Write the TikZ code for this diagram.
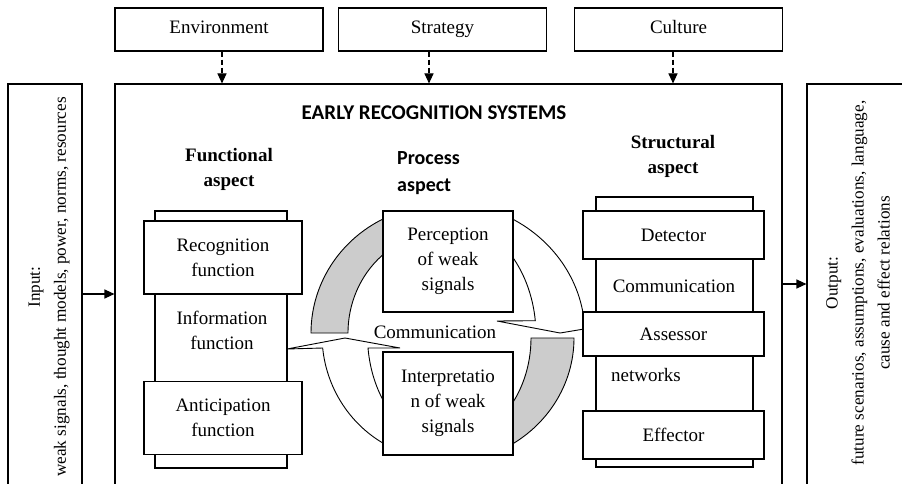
\documentclass[tikz,border=0pt]{standalone}
\usepackage{fontspec}
\setmainfont{Liberation Serif}
\newfontfamily\calibri{Carlito}
\usetikzlibrary{arrows.meta}

\newcommand{\CX}{443}
\newcommand{\CY}{335}
\definecolor{ringgray}{RGB}{204,204,204}

\tikzset{
    box/.style={draw, fill=white, line width=1.1pt, inner sep=0pt, align=center,
        font=\fontsize{19}{25}\selectfont},
    txt/.style={inner sep=0pt, align=center, font=\fontsize{19}{25}\selectfont},
    sidetxt/.style={txt, rotate=90, font=\fontsize{17.2}{26}\selectfont},
    flow/.style={line width=1.1pt, -{Triangle[length=10pt,width=9pt]}},
    dflow/.style={flow, dash pattern=on 5pt off 3pt},
    ring/.style={line width=0.9pt},
}

\begin{document}
\begin{tikzpicture}[x=1pt,y=-1pt]
        \clip (0,0) rectangle (902,484);

        % frames
        \path (448.5,292) node[box,minimum width=667pt,minimum height=416pt] (sys) {};
        \path (45,292) node[box,minimum width=74pt,minimum height=416pt] (inp) {};
        \path (866,292) node[box,minimum width=118pt,minimum height=416pt] (outp) {};

        \foreach \N/\X/\D/\T in {env/219/3/Environment, strat/442.5/-13.5/Strategy, cult/678.5/-5.5/Culture} {
            \path (\X,29.5) node[box,minimum width=208pt,minimum height=43pt,text height=13pt,text depth=4pt] (\N) {\T};
            \path ([xshift=\D pt]\N.south) coordinate (\N-a);
            \draw [dflow] (\N-a) -- (\N-a |- sys.north);
        }

        \path (49,287) node[sidetxt] (inptxt)
            {Input:\\weak signals, thought models, power, norms, resources};
        \path (858,283) node[sidetxt] (outtxt)
            {Output:\\future scenarios, assumptions, evaluations, language,\\cause and effect relations};

        \path (82,294) coordinate (inarr);
        \path (782,284) coordinate (outarr);
        \draw [flow] (inarr) -- (inarr -| sys.west);
        \draw [flow] (outarr) -- (outarr -| outp.west);

        % headings
        \path (434,113) node[txt,font=\calibri\bfseries\fontsize{21}{24}\selectfont] (title) {EARLY RECOGNITION SYSTEMS};
        \path (229,169) node[txt,font=\bfseries\fontsize{19}{25}\selectfont] (func) {Functional\\aspect};
        \path (397,173.5) node[txt,anchor=west,align=left,font=\calibri\bfseries\fontsize{20}{27}\selectfont] (proc) {Process\\aspect};
        \path (673,156) node[txt,font=\bfseries\fontsize{19}{25}\selectfont] (struc) {Structural\\aspect};

        % ring
        \filldraw [ring,fill=ringgray] ([shift={(443,333)}]248:132 and 128)
            arc[start angle=248,end angle=180,x radius=132,y radius=128] -- (348,333)
            arc[start angle=180,end angle=240,x radius=95,y radius=101] -- cycle;
        \filldraw [ring,fill=ringgray] (574,338)
            arc[start angle=0,end angle=62,x radius=131,y radius=125] -- ([shift={(443,338)}]45:88 and 106)
            arc[start angle=45,end angle=0,x radius=88,y radius=106] -- cycle;
        \draw [ring] ([shift={(\CX,\CY)}]-65:142 and 133)
            arc[start angle=-65,end angle=-5,x radius=142,y radius=133];
        \draw [ring] (584,329) -- (560,333) -- (497,321) -- (535.3,320.7)
            arc[start angle=-7,end angle=-45,x radius=93,y radius=117.5];
        \draw [ring] ([shift={(\CX,\CY)}]115:121 and 124.5)
            arc[start angle=115,end angle=174,x radius=121,y radius=124.5]
            -- (287,349) -- (345,338) -- (400,348) -- (368,348)
            arc[start angle=173,end angle=135,x radius=75.6,y radius=107];

        % functional aspect
        \path (221,339.5) node[box,minimum width=132pt,minimum height=257pt] (fbar) {};
        \foreach \N/\Y/\T in {rec/257.5/Recognition, ant/418/Anticipation} {
            \path (223,\Y) node[box,minimum width=158pt,minimum height=73pt] (\N) {\T\\function};
        }
        \path (222,330) node[txt] (info) {Information\\function};

        % process aspect
        \path (448,261.5) node[box,minimum width=130pt,minimum height=101pt] (perc) {Perception\\of weak\\signals};
        \path (448,403.5) node[box,minimum width=130pt,minimum height=103pt] (interp) {Interpretatio\\n of weak\\signals};
        \path (435,332) node[txt] (pcomm) {Communication};

        % structural aspect
        \path (674.5,332) node[box,minimum width=157pt,minimum height=270pt] (sbar) {};
        \foreach \N/\Y/\H/\T in {det/235/48/Detector, ass/334/44/Assessor, eff/435/48/Effector} {
            \path (673.5,\Y) node[box,minimum width=181pt,minimum height=\H pt] (\N) {\T};
        }
        \path (674,286) node[txt] (scomm) {Communication};
        \path (611,375) node[txt,anchor=west] (netw) {networks};

    \end{tikzpicture}
\end{document}
